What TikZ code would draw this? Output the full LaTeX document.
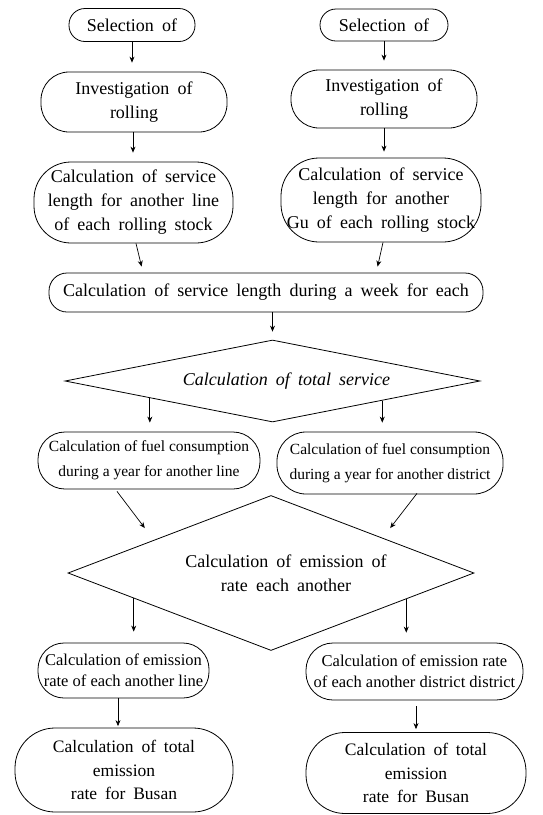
\documentclass[tikz,border=0pt]{standalone}
\usepackage{fontspec}
\setmainfont[WordSpace=1.8]{Liberation Serif}
\newfontfamily\tightfont{Liberation Serif}
\usetikzlibrary{arrows.meta,shapes.geometric,calc}
\begin{document}
\begin{tikzpicture}[x=1pt,y=-1pt,line width=0.8pt,
  pill/.style={draw,rounded corners=#1,inner sep=0pt,align=center},
  wfont/.style={font=\fontsize{18}{24}\selectfont},
  efont/.style={font=\tightfont\fontsize{16.5}{21.5}\selectfont},
  ffont/.style={font=\tightfont\fontsize{15.5}{25}\selectfont},
  tfont/.style={font=\fontsize{17.5}{23.5}\selectfont},
  dia/.style={draw,diamond,inner sep=0pt,align=center},
  arr/.style={-{Stealth[length=6pt,width=5pt]},line width=0.7pt}]
\useasboundingbox (0,0) rectangle (542,815);

% top boxes
\node[pill=16,wfont,minimum width=126pt,minimum height=33pt] (sL) at (132,25) {Selection of};
\node[pill=16,wfont,minimum width=128pt,minimum height=32pt] (sR) at (384,25) {Selection of};
\node[pill=28,wfont,minimum width=186pt,minimum height=60pt] (iL) at (134,102) {Investigation of\\rolling};
\node[pill=28,wfont,minimum width=186pt,minimum height=58pt] (iR) at (384,99) {Investigation of\\rolling};
\node[pill=37,wfont,minimum width=199pt,minimum height=81pt] (cL) at (133.5,202.5) {Calculation of service\\length for another line\\of each rolling stock};
\node[pill=38,wfont,minimum width=200pt,minimum height=84pt] (cR) at (381,200) {Calculation of service\\length for another\\Gu of each rolling stock};
\node[pill=18,wfont,minimum width=434pt,minimum height=39pt] (wk) at (266,292.5) {Calculation of service length during a week for each};

% diamond 1
\node[dia,font=\fontsize{18}{24}\selectfont\itshape,shape aspect=5,minimum width=415pt,minimum height=82pt] (d1) at (272.5,381) {\hspace*{28pt}Calculation of total service};

% fuel boxes
\node[pill=27,ffont,minimum width=222pt,minimum height=57pt] (fL) at (149,460.5) {Calculation of fuel consumption\\during a year for another line};
\node[pill=29,ffont,minimum width=226pt,minimum height=62pt] (fR) at (390,463) {Calculation of fuel consumption\\during a year for another district};

% diamond 2
\node[dia,wfont,shape aspect=2.6,minimum width=406pt,minimum height=155pt] (d2) at (271,573) {\hspace*{30pt}Calculation of emission of\\\hspace*{30pt}rate each another};

% emission boxes
\node[pill=26,efont,minimum width=171pt,minimum height=55pt] (eL) at (123.5,670.5) {Calculation of emission\\rate of each another line};
\node[pill=27,efont,minimum width=217pt,minimum height=57pt] (eR) at (414.5,671.5) {Calculation of emission rate\\of each another district district};

% final boxes
\node[pill=40,tfont,minimum width=218pt,minimum height=84pt] (tL) at (124,770) {Calculation of total\\emission\\rate for Busan};
\node[pill=39,tfont,minimum width=220pt,minimum height=81pt] (tR) at (416,773) {Calculation of total\\emission\\rate for Busan};

% helper coordinates
\coordinate (p1) at ($(d1.west)!0.41!(d1.south)$);
\coordinate (p2) at ($(d1.south)!0.528!(d1.east)$);
\coordinate (p3) at ($(d2.west)!0.325!(d2.south)$);
\coordinate (p4) at ($(d2.south)!0.665!(d2.east)$);
\coordinate (p5) at ($(eL.south)+(-5.5,0)$);
\coordinate (p6) at ($(eR.south)+(1.5,6)$);

% connectors
\draw[arr,shorten >=9pt] (sL.south) -- (sL.south |- iL.north);
\draw[arr,shorten >=9pt] (sR.south) -- (sR.south |- iR.north);
\draw[arr,shorten >=9pt] ($(iL.south)+(-1,0)$) -- ($(iL.south |- cL.north)+(-1,0)$);
\draw[arr,shorten >=6pt] (iR.south) -- (iR.south |- cR.north);
\draw[arr] ($(cL.south)+(2.5,0)$) -- ($(wk.north west)+(93,-6)$);
\draw[arr] ($(cR.south)+(2,0)$) -- ($(wk.north west)+(329,-6)$);
\draw[arr,shorten >=8pt] (d1.north |- wk.south) -- (d1.north);
\draw[arr,shorten >=9pt] (p1) -- (p1 |- fL.north);
\draw[arr,shorten >=9pt] (p2) -- (p2 |- fR.north);
\draw[arr] ($(fL.south)+(-32,2)$) -- ($(d2.north west)+(-24.5,-6)$);
\draw[arr] ($(fR.south)+(27,-1)$) -- ($(d2.north east)+(17.5,-6)$);
\draw[arr,shorten >=11pt] (p3) -- (p3 |- eL.north);
\draw[arr,shorten >=10pt] (p4) -- (p4 |- eR.north);
\draw[arr,shorten >=1.5pt] (p5) -- (p5 |- tL.north);
\draw[arr,shorten >=3pt] (p6) -- (p6 |- tR.north);
\end{tikzpicture}
\end{document}
